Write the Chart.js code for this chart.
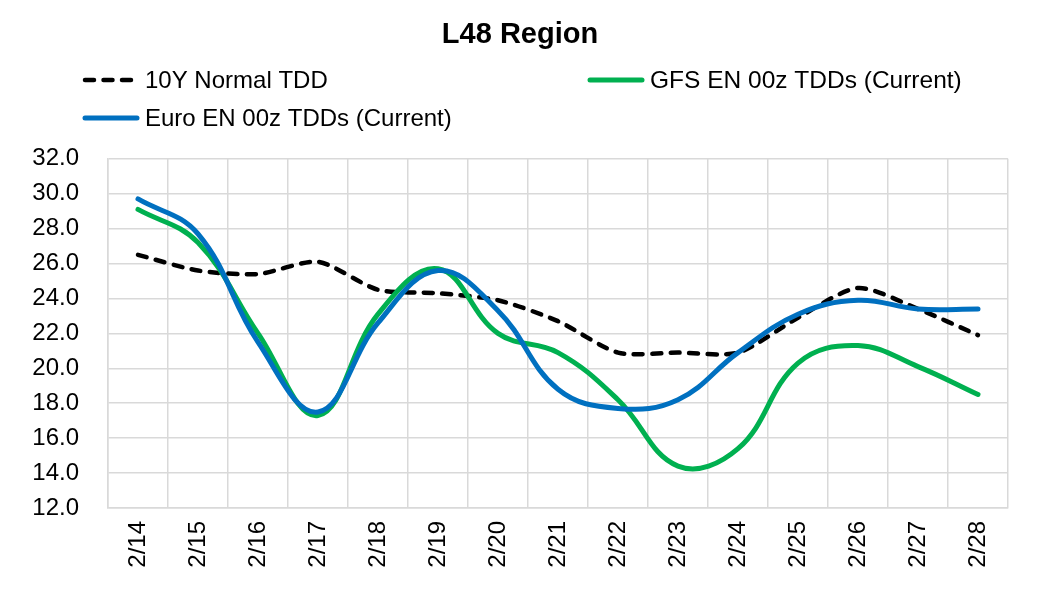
<!DOCTYPE html>
<html>
<head>
<meta charset="utf-8">
<script src="https://cdn.jsdelivr.net/npm/chart.js@4/dist/chart.umd.min.js"></script>
<style>
  html, body { margin: 0; padding: 0; background: #ffffff; }
  #wrap { width: 1040px; height: 602px; position: relative; }
</style>
</head>
<body>
<div id="wrap"><canvas id="c" width="1040" height="602"></canvas></div>
<script>
const categories = ["2/14","2/15","2/16","2/17","2/18","2/19","2/20","2/21","2/22","2/23","2/24","2/25","2/26","2/27","2/28"];
const normalTDD = [26.5, 25.6, 25.4, 26.1, 24.5, 24.3, 23.9, 22.7, 20.9, 20.9, 20.9, 22.9, 24.6, 23.4, 21.9];
const gfsTDD    = [29.1, 27.2, 22.0, 17.3, 23.1, 25.7, 22.0, 20.9, 18.2, 14.4, 15.4, 20.3, 21.3, 20.1, 18.5];
const euroTDD   = [29.7, 27.7, 21.5, 17.5, 22.6, 25.6, 23.3, 18.8, 17.7, 18.2, 20.9, 23.1, 23.9, 23.4, 23.4];
const seriesNames = ["10Y Normal TDD", "GFS EN 00z TDDs (Current)", "Euro EN 00z TDDs (Current)"];
const titleText = "L48 Region";
const yMin = 12, yMax = 32, yStep = 2;

const FONT = "'Liberation Sans', Arial, sans-serif";

const legendSlots = [
  { x: 83, y: 80, size: 24 },
  { x: 588, y: 80, size: 24.5 },
  { x: 83, y: 118, size: 24 }
];

const customLegend = {
  id: 'customLegend',
  afterDraw(chart) {
    const ctx = chart.ctx;
    ctx.save();
    chart.data.datasets.forEach((ds, i) => {
      const s = legendSlots[i];
      ctx.beginPath();
      ctx.strokeStyle = ds.borderColor;
      ctx.lineWidth = ds.borderWidth;
      ctx.lineCap = 'round';
      ctx.setLineDash(ds.borderDash || []);
      ctx.moveTo(s.x + 2, s.y);
      ctx.lineTo(s.x + 54, s.y);
      ctx.stroke();
      ctx.setLineDash([]);
      ctx.fillStyle = '#000000';
      ctx.font = s.size + 'px ' + FONT;
      ctx.textBaseline = 'middle';
      ctx.textAlign = 'left';
      ctx.fillText(ds.label, s.x + 62, s.y + 1);
    });
    ctx.restore();
  }
};

new Chart(document.getElementById('c'), {
  type: 'line',
  data: {
    labels: categories,
    datasets: [
      { label: seriesNames[0], data: normalTDD, borderColor: '#000000', borderWidth: 4.5, borderDash: [9, 9.5], borderCapStyle: 'round', pointRadius: 0, tension: 0.25, order: 3, fill: false },
      { label: seriesNames[1], data: gfsTDD, borderColor: '#00B050', borderWidth: 5, borderCapStyle: 'round', pointRadius: 0, tension: 0.4, order: 2, fill: false },
      { label: seriesNames[2], data: euroTDD, borderColor: '#0070C0', borderWidth: 5, borderCapStyle: 'round', pointRadius: 0, tension: 0.4, order: 1, fill: false }
    ]
  },
  options: {
    responsive: false,
    animation: false,
    devicePixelRatio: 1,
    layout: { padding: { top: 0, left: 32, right: 32, bottom: 0 } },
    plugins: {
      legend: { display: false },
      tooltip: { enabled: false },
      title: {
        display: true,
        text: titleText,
        color: '#000000',
        font: { family: FONT, size: 29, weight: 'bold' },
        padding: { top: 18, bottom: 106 }
      }
    },
    scales: {
      x: {
        offset: true,
        grid: { offset: true, color: '#D9D9D9', lineWidth: 1.5, drawTicks: false },
        border: { display: true, color: '#D9D9D9', width: 1.5 },
        ticks: { color: '#000000', font: { family: FONT, size: 24 }, minRotation: 90, maxRotation: 90, padding: 13, autoSkip: false },
        afterFit(scale) { scale.height = 94; }
      },
      y: {
        min: yMin, max: yMax,
        grid: { color: '#D9D9D9', lineWidth: 1.5, drawTicks: false },
        border: { display: true, color: '#D9D9D9', width: 1.5 },
        ticks: { stepSize: yStep, color: '#000000', font: { family: FONT, size: 24 }, padding: 29, callback: v => Number(v).toFixed(1) },
        afterFit(scale) { scale.width = 76; }
      }
    }
  },
  plugins: [customLegend]
});
</script>
</body>
</html>
